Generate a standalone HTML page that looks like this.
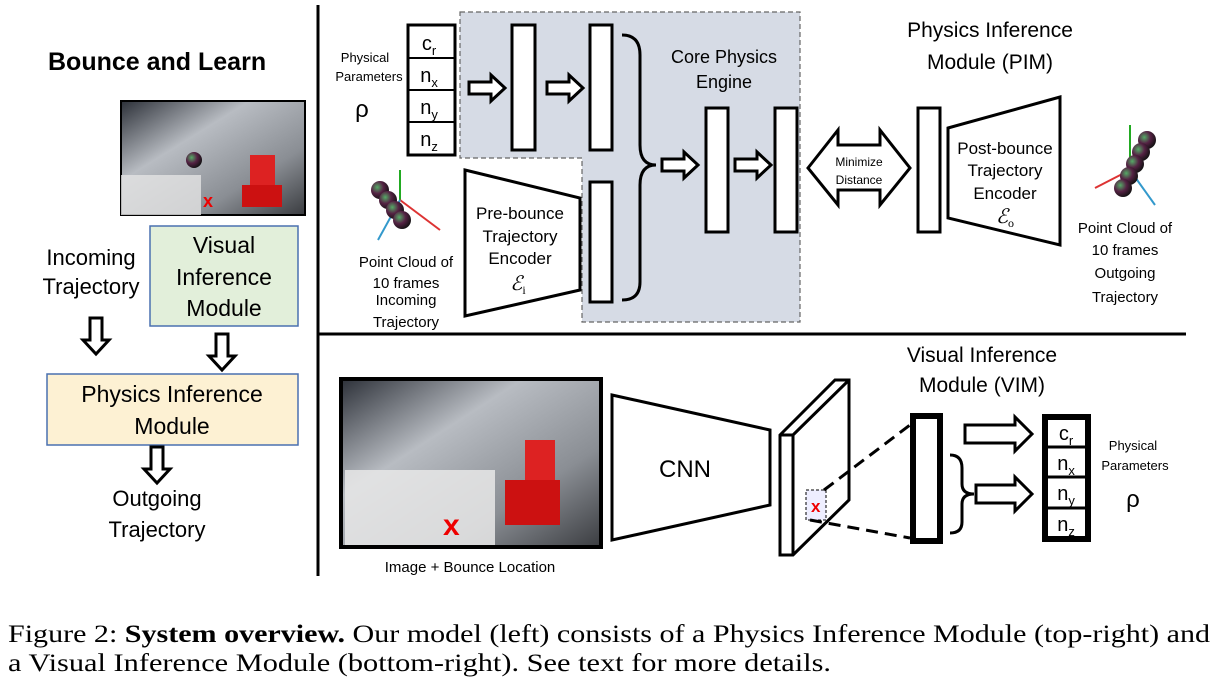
<!DOCTYPE html>
<html><head><meta charset="utf-8"><style>
body{margin:0;background:#fff;}
svg{display:block;}
text{font-family:"Liberation Sans","DejaVu Sans",sans-serif;fill:#000;}
.s{font-family:"Liberation Serif",serif;}
</style></head><body>
<svg width="1222" height="682" viewBox="0 0 1222 682" xmlns="http://www.w3.org/2000/svg">
<defs>
<linearGradient id="ph" x1="0" y1="0" x2="1" y2="1">
<stop offset="0" stop-color="#2c3038"/><stop offset="0.35" stop-color="#b8bcc2"/><stop offset="0.7" stop-color="#8a8e94"/><stop offset="1" stop-color="#3a3c40"/></linearGradient>
<radialGradient id="ball" cx="0.35" cy="0.35" r="0.7"><stop offset="0" stop-color="#5a6"/><stop offset="0.5" stop-color="#524"/><stop offset="1" stop-color="#111"/></radialGradient>
<g id="ha"><polygon points="0,-6 22,-6 22,-13 36,0 22,13 22,6 0,6" fill="#fff" stroke="#000" stroke-width="3"/></g>
<g id="hd"><polygon points="-6,0 6,0 6,22 13,22 0,36 -13,22 -6,22" fill="#fff" stroke="#000" stroke-width="3"/></g>
</defs>
<line x1="318" y1="5" x2="318" y2="576" stroke="#000" stroke-width="3"/>
<line x1="318" y1="334" x2="1186" y2="334" stroke="#000" stroke-width="3"/>

<text x="48" y="70" font-size="25" font-weight="bold">Bounce and Learn</text>
<rect x="121" y="101" width="184" height="114" fill="url(#ph)" stroke="#000" stroke-width="2"/>
<rect x="121" y="175" width="80" height="40" fill="#e4e4e4" opacity="0.8"/>
<rect x="250" y="155" width="25" height="40" fill="#d22" />
<rect x="242" y="185" width="40" height="22" fill="#c11"/>
<circle cx="194" cy="160" r="8" fill="url(#ball)"/>
<text x="203" y="207" font-size="18" style="fill:#e00" font-weight="bold">x</text>
<text x="91" y="265" font-size="22" text-anchor="middle">Incoming</text>
<text x="91" y="294" font-size="22" text-anchor="middle">Trajectory</text>
<rect x="150" y="226" width="148" height="100" fill="#e2efda" stroke="#4a70b0" stroke-width="1.5"/>
<text x="224" y="253" font-size="23" text-anchor="middle">Visual</text>
<text x="224" y="285" font-size="23" text-anchor="middle">Inference</text>
<text x="224" y="316" font-size="23" text-anchor="middle">Module</text>
<use href="#hd" x="96" y="318"/>
<use href="#hd" x="222" y="334"/>
<rect x="47" y="374" width="251" height="71" fill="#fdf1d3" stroke="#4a70b0" stroke-width="1.5"/>
<text x="172" y="402" font-size="23" text-anchor="middle">Physics Inference</text>
<text x="172" y="434" font-size="23" text-anchor="middle">Module</text>
<use href="#hd" x="157" y="447"/>
<text x="157" y="506" font-size="22" text-anchor="middle">Outgoing</text>
<text x="157" y="537" font-size="22" text-anchor="middle">Trajectory</text>

<polygon points="460,12 800,12 800,322 582,322 582,158 460,158" fill="#d6dbe5" stroke="#666" stroke-width="1.2" stroke-dasharray="5,3"/>
<text x="365" y="62" font-size="13" text-anchor="middle">Physical</text>
<text x="369" y="81" font-size="13" text-anchor="middle">Parameters</text>
<text x="362" y="117" font-size="24" text-anchor="middle">ρ</text>
<rect x="408" y="25" width="47" height="130" fill="#fff" stroke="#000" stroke-width="3"/>
<g stroke="#000" stroke-width="2"><line x1="408" y1="58" x2="455" y2="58"/><line x1="408" y1="90" x2="455" y2="90"/><line x1="408" y1="122" x2="455" y2="122"/></g>
<g font-size="20" text-anchor="middle">
<text x="429" y="50">c<tspan font-size="13" dy="5">r</tspan></text>
<text x="429" y="82">n<tspan font-size="13" dy="5">x</tspan></text>
<text x="429" y="114">n<tspan font-size="13" dy="5">y</tspan></text>
<text x="429" y="146">n<tspan font-size="13" dy="5">z</tspan></text>
</g>
<use href="#ha" x="469" y="88"/>
<use href="#ha" x="547" y="88"/>
<g fill="#fff" stroke="#000" stroke-width="3">
<rect x="512" y="25" width="23" height="125"/>
<rect x="590" y="25" width="22" height="125"/>
<rect x="590" y="182" width="22" height="120"/>
<rect x="706" y="108" width="22" height="124"/>
<rect x="775" y="108" width="22" height="124"/>
<rect x="918" y="108" width="22" height="124"/>
</g>
<path d="M622,35 Q640,35 640,55 L640,145 Q640,165 656,165 Q640,165 640,185 L640,282 Q640,300 622,300" fill="none" stroke="#000" stroke-width="3"/>
<use href="#ha" x="662" y="165"/>
<use href="#ha" x="735" y="165"/>
<text x="724" y="63" font-size="18" text-anchor="middle">Core Physics</text>
<text x="724" y="88" font-size="18" text-anchor="middle">Engine</text>
<polygon points="808,168 838,130 838,145 880,145 880,130 910,168 880,205 880,190 838,190 838,205" fill="#fff" stroke="#000" stroke-width="3"/>
<text x="859" y="166" font-size="12" text-anchor="middle">Minimize</text>
<text x="859" y="184" font-size="12" text-anchor="middle">Distance</text>
<polygon points="465,170 580,198 580,290 465,316" fill="#fff" stroke="#000" stroke-width="3"/>
<g font-size="17" text-anchor="middle">
<text x="520" y="219">Pre-bounce</text>
<text x="520" y="242">Trajectory</text>
<text x="520" y="264">Encoder</text>
<text x="518" y="290" font-style="italic" font-size="20" class="s">ℰ<tspan font-size="12" dy="4" font-style="normal">i</tspan></text>
</g>
<polygon points="948,128 1060,97 1060,245 948,218" fill="#fff" stroke="#000" stroke-width="3"/>
<g font-size="17" text-anchor="middle">
<text x="1005" y="154">Post-bounce</text>
<text x="1005" y="176">Trajectory</text>
<text x="1005" y="199">Encoder</text>
<text x="1005" y="223" font-style="italic" font-size="20" class="s">ℰ<tspan font-size="12" dy="4" font-style="normal">o</tspan></text>
</g>
<text x="990" y="37" font-size="21" text-anchor="middle">Physics Inference</text>
<text x="990" y="69" font-size="21" text-anchor="middle">Module (PIM)</text>
<g>
<line x1="400" y1="200" x2="400" y2="170" stroke="#2a2" stroke-width="2"/>
<line x1="400" y1="200" x2="440" y2="230" stroke="#d33" stroke-width="2"/>
<line x1="400" y1="200" x2="378" y2="240" stroke="#39c" stroke-width="2"/>
<circle cx="380" cy="190" r="9" fill="url(#ball)"/><circle cx="388" cy="200" r="9" fill="url(#ball)"/><circle cx="395" cy="210" r="9" fill="url(#ball)"/><circle cx="402" cy="220" r="9" fill="url(#ball)"/>
</g>
<g font-size="15" text-anchor="middle">
<text x="406" y="267">Point Cloud of</text><text x="406" y="288">10 frames</text>
<text x="406" y="305">Incoming</text><text x="406" y="327">Trajectory</text>
</g>
<g>
<line x1="1130" y1="170" x2="1130" y2="125" stroke="#2a2" stroke-width="2"/>
<line x1="1130" y1="170" x2="1095" y2="188" stroke="#d33" stroke-width="2"/>
<line x1="1130" y1="170" x2="1155" y2="205" stroke="#39c" stroke-width="2"/>
<circle cx="1147" cy="140" r="9" fill="url(#ball)"/><circle cx="1141" cy="152" r="9" fill="url(#ball)"/><circle cx="1135" cy="164" r="9" fill="url(#ball)"/><circle cx="1129" cy="176" r="9" fill="url(#ball)"/><circle cx="1123" cy="188" r="9" fill="url(#ball)"/>
</g>
<g font-size="15" text-anchor="middle">
<text x="1125" y="233">Point Cloud of</text><text x="1125" y="255">10 frames</text>
<text x="1125" y="278">Outgoing</text><text x="1125" y="302">Trajectory</text>
</g>

<rect x="341" y="379" width="260" height="168" fill="url(#ph)" stroke="#000" stroke-width="4"/>
<rect x="525" y="440" width="30" height="50" fill="#d22"/>
<rect x="505" y="480" width="55" height="45" fill="#c11"/>
<rect x="345" y="470" width="150" height="75" fill="#e8e8e8" opacity="0.85"/>
<text x="443" y="535" font-size="30" font-weight="bold" style="fill:#e00">x</text>
<text x="470" y="572" font-size="15" text-anchor="middle">Image + Bounce Location</text>
<polygon points="612,395 770,430 770,505 612,540" fill="#fff" stroke="#000" stroke-width="3"/>
<text x="685" y="477" font-size="24" text-anchor="middle">CNN</text>
<polygon points="780,435 835,380 849,380 849,500 793,555 780,555" fill="#fff" stroke="#000" stroke-width="3"/>
<polyline points="780,435 793,435 849,380" fill="none" stroke="#000" stroke-width="3"/>
<line x1="793" y1="435" x2="793" y2="555" stroke="#000" stroke-width="3"/>
<rect x="806" y="490" width="20" height="30" fill="#eef" stroke="#000" stroke-width="1" stroke-dasharray="3,2"/>
<text x="811" y="512" font-size="17" font-weight="bold" style="fill:#e00">x</text>
<line x1="824" y1="490" x2="910" y2="425" stroke="#000" stroke-width="3" stroke-dasharray="12,7"/>
<line x1="810" y1="520" x2="910" y2="538" stroke="#000" stroke-width="3" stroke-dasharray="12,7"/>
<rect x="913" y="416" width="27" height="125" fill="#fff" stroke="#000" stroke-width="6"/>
<text x="982" y="362" font-size="21" text-anchor="middle">Visual Inference</text>
<text x="982" y="392" font-size="21" text-anchor="middle">Module (VIM)</text>
<polygon points="965,425 1015,425 1015,417 1032,434 1015,451 1015,443 965,443" fill="#fff" stroke="#000" stroke-width="3"/>
<polygon points="976,485 1015,485 1015,477 1032,494 1015,511 1015,503 976,503" fill="#fff" stroke="#000" stroke-width="3"/>
<path d="M950,455 Q962,455 962,468 L962,484 Q962,494 974,494 Q962,494 962,504 L962,522 Q962,533 950,533" fill="none" stroke="#000" stroke-width="3"/>
<rect x="1045" y="417" width="43" height="122" fill="#fff" stroke="#000" stroke-width="6"/>
<g stroke="#000" stroke-width="3"><line x1="1045" y1="447" x2="1088" y2="447"/><line x1="1045" y1="477" x2="1088" y2="477"/><line x1="1045" y1="508" x2="1088" y2="508"/></g>
<g font-size="20" text-anchor="middle">
<text x="1066" y="440">c<tspan font-size="13" dy="5">r</tspan></text>
<text x="1066" y="470">n<tspan font-size="13" dy="5">x</tspan></text>
<text x="1066" y="500">n<tspan font-size="13" dy="5">y</tspan></text>
<text x="1066" y="531">n<tspan font-size="13" dy="5">z</tspan></text>
</g>
<text x="1133" y="450" font-size="13" text-anchor="middle">Physical</text>
<text x="1135" y="470" font-size="13" text-anchor="middle">Parameters</text>
<text x="1133" y="507" font-size="24" text-anchor="middle">ρ</text>

<text x="8" y="642" font-size="25" class="s" textLength="1202" lengthAdjust="spacingAndGlyphs">Figure 2: <tspan font-weight="bold">System overview.</tspan> Our model (left) consists of a Physics Inference Module (top-right) and</text>
<text x="8" y="671" font-size="25" class="s" textLength="823" lengthAdjust="spacingAndGlyphs">a Visual Inference Module (bottom-right). See text for more details.</text>
</svg>
</body></html>
